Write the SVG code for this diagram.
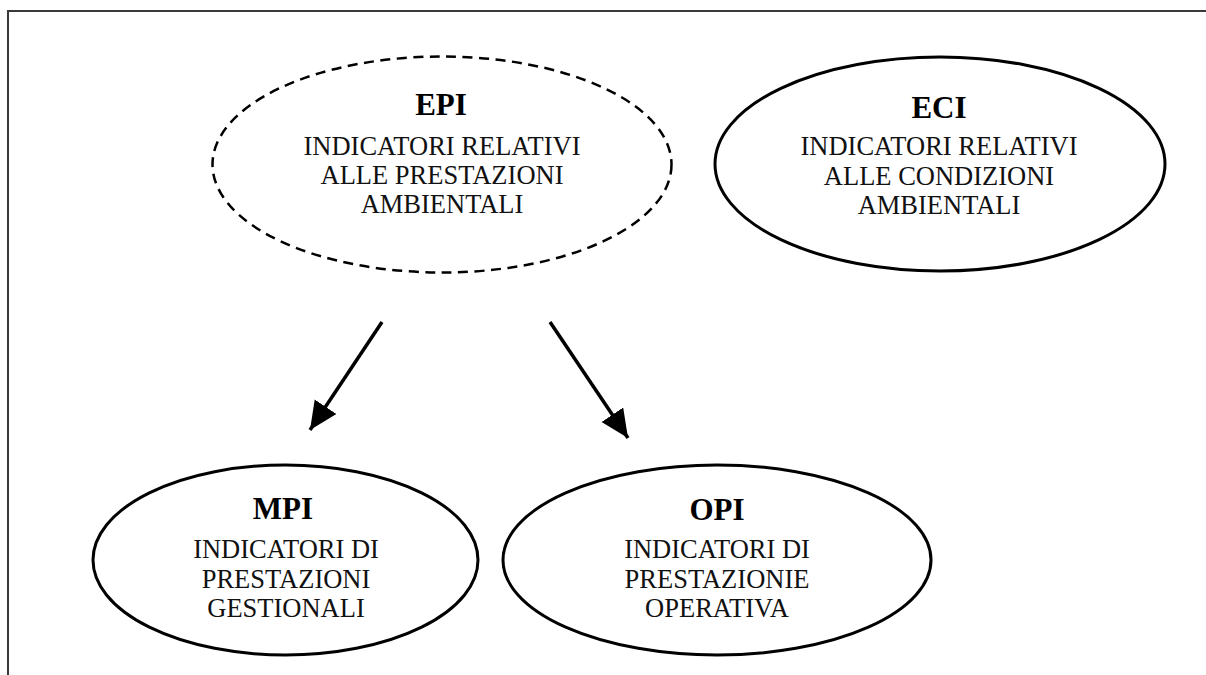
<svg xmlns="http://www.w3.org/2000/svg" width="1206" height="675" viewBox="0 0 1206 675">
<style>
.bg{fill:#fff}
.frame{fill:none;stroke:#3a3a3a;stroke-width:2}
.ell{fill:none;stroke:#000;stroke-width:3}
.dash{fill:none;stroke:#000;stroke-width:2.5;stroke-dasharray:10 6.5}
.t{font-family:"Liberation Serif","Times New Roman",serif;font-size:26.5px;fill:#111;text-anchor:middle}
.h{font-family:"Liberation Serif","Times New Roman",serif;font-size:31px;font-weight:bold;fill:#000;text-anchor:middle}
.conn{stroke:#000;stroke-width:3.5;fill:none}
</style>
<defs>
<marker id="ah" markerUnits="userSpaceOnUse" markerWidth="30" markerHeight="28" refX="28" refY="13" orient="auto">
<path d="M0,0 L28,13 L0,26 Z" fill="#000"/>
</marker>
</defs>
<rect class="bg" x="0" y="0" width="1206" height="675"/>
<path class="frame" d="M8,675 V11 H1206"/>
<g id="epi">
<ellipse class="dash" cx="442" cy="164.5" rx="229.5" ry="108"/>
<text class="h" x="441" y="115">EPI</text>
<text class="t" x="442" y="155">INDICATORI RELATIVI</text>
<text class="t" x="442" y="184">ALLE PRESTAZIONI</text>
<text class="t" x="442" y="213">AMBIENTALI</text>
</g>
<g id="eci">
<ellipse class="ell" cx="940" cy="164" rx="225" ry="107"/>
<text class="h" x="939" y="118">ECI</text>
<text class="t" x="939" y="155">INDICATORI RELATIVI</text>
<text class="t" x="939" y="184.5">ALLE CONDIZIONI</text>
<text class="t" x="939" y="214">AMBIENTALI</text>
</g>
<g id="mpi">
<ellipse class="ell" cx="285.5" cy="560" rx="192.5" ry="95"/>
<text class="h" x="283" y="519">MPI</text>
<text class="t" x="286" y="558">INDICATORI DI</text>
<text class="t" x="286" y="587.5">PRESTAZIONI</text>
<text class="t" x="286" y="617">GESTIONALI</text>
</g>
<g id="opi">
<ellipse class="ell" cx="717" cy="560" rx="214" ry="95"/>
<text class="h" x="717" y="520">OPI</text>
<text class="t" x="717" y="558">INDICATORI DI</text>
<text class="t" x="717" y="587.5">PRESTAZIONIE</text>
<text class="t" x="717" y="617">OPERATIVA</text>
</g>
<g id="connectors">
<line class="conn" x1="382" y1="322" x2="310" y2="430" marker-end="url(#ah)"/>
<line class="conn" x1="550" y1="322" x2="628" y2="438" marker-end="url(#ah)"/>
</g>
</svg>
